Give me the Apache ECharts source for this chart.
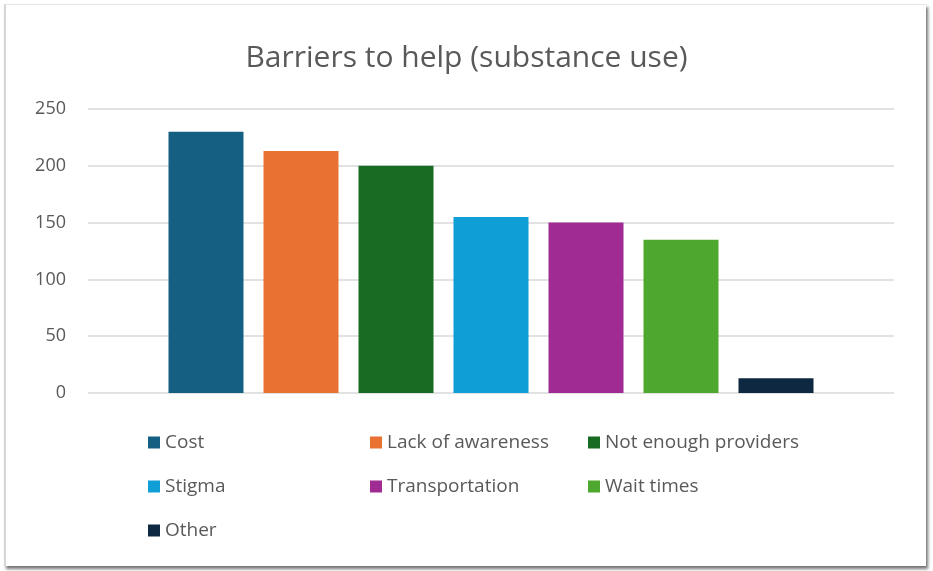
<!DOCTYPE html>
<html>
<head>
<meta charset="utf-8">
<script src="https://cdn.jsdelivr.net/npm/echarts@6/dist/echarts.min.js"></script>
<style>
  html, body { margin: 0; padding: 0; background: #fff; }
  #frame { position: absolute; left: 4px; top: 4px; width: 920px; height: 561px;
           border-left: 2px solid #d6d6d6; border-top: 1px solid #e6e6e6;
           box-shadow: 2px 3px 3px rgba(0,0,0,0.55); background: #fff; }
  #chart { position: absolute; left: 0; top: 0; width: 933px; height: 571px; }
</style>
</head>
<body>
<div id="frame"></div>
<div id="chart"></div>
<script>
const titleText = 'Barriers to help (substance use)';
const seriesNames = ['Cost', 'Lack of awareness', 'Not enough providers', 'Stigma', 'Transportation', 'Wait times', 'Other'];
const seriesValues = [230, 213, 200, 155, 150, 135, 13];
const seriesColors = ['#156082', '#E97132', '#196B24', '#0F9ED5', '#A02B93', '#4EA72E', '#0E2841'];
const yTicks = [0, 50, 100, 150, 200, 250];

const FONT = 'Open Sans';
const chart = echarts.init(document.getElementById('chart'), null, { renderer: 'canvas' });

const legendCols = [
  { left: 148, names: [seriesNames[0], seriesNames[3], seriesNames[6]] },
  { left: 370, names: [seriesNames[1], seriesNames[4]] },
  { left: 588, names: [seriesNames[2], seriesNames[5]] }
];

chart.setOption({
  backgroundColor: 'transparent',
  animation: false,
  title: {
    text: titleText, left: 'center', top: 38,
    textStyle: { fontFamily: FONT, fontSize: 30, fontWeight: 'normal', color: '#595959' }
  },
  legend: legendCols.map(c => ({
    data: c.names, orient: 'vertical', left: c.left, top: 433, itemGap: 25,
    itemWidth: 12, itemHeight: 12, icon: 'rect', padding: 0,
    textStyle: { fontFamily: FONT, fontSize: 19, color: '#595959', padding: [0, 0, 0, 0] },
    selectedMode: false
  })),
  grid: { left: 88, right: 39, top: 109, bottom: 178, containLabel: false },
  xAxis: {
    type: 'category', data: [''],
    axisLine: { show: false }, axisTick: { show: false }, axisLabel: { show: false }
  },
  yAxis: {
    type: 'value', min: yTicks[0], max: yTicks[yTicks.length - 1], interval: 50,
    axisLine: { show: false }, axisTick: { show: false },
    axisLabel: { fontFamily: FONT, fontSize: 18, color: '#595959', margin: 22 },
    splitLine: { lineStyle: { color: '#D9D9D9', width: 1.5 } }
  },
  series: seriesNames.map((n, i) => ({
    name: n, type: 'bar', data: [seriesValues[i]],
    barWidth: 75, barGap: '26.67%',
    itemStyle: { color: seriesColors[i] }
  }))
});
</script>
</body>
</html>
